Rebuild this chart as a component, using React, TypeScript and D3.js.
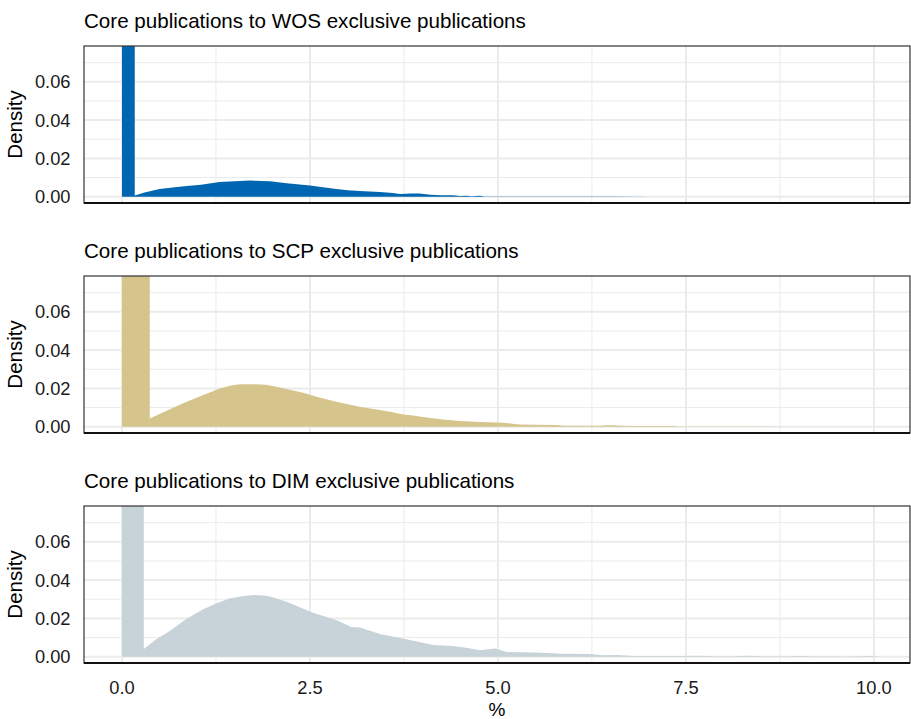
import React from 'react';
import * as d3 from 'd3';

// panel titles and fills
const titles = [
  'Core publications to WOS exclusive publications',
  'Core publications to SCP exclusive publications',
  'Core publications to DIM exclusive publications',
];
const fills = ['#0066b1', '#d6c48d', '#c8d3d9'];

const xTicks = [0, 2.5, 5, 7.5, 10];
const xMinor = [1.25, 3.75, 6.25, 8.75];
const yTicks = [0, 0.02, 0.04, 0.06];
const yMinor = [0.01, 0.03, 0.05, 0.07];

// density estimates (spike at 0 runs past the panel top)
const wosX = [0, 0, 0.17, 0.17, 0.3, 0.5, 0.7, 0.86, 1.05, 1.3, 1.5, 1.7, 1.97, 2.19, 2.5, 2.7, 2.85, 3.0, 3.16, 3.43, 3.6, 3.7, 3.85, 3.96, 4.1, 4.25, 4.4, 4.5, 4.58, 4.65, 4.76, 4.82, 5.0, 5.5, 6.0, 6.5, 7.0];
const wosY = [0, 0.3, 0.3, 0.0006, 0.0022, 0.004, 0.0049, 0.0056, 0.0062, 0.0077, 0.0081, 0.0084, 0.008, 0.007, 0.0059, 0.0048, 0.004, 0.0034, 0.003, 0.0024, 0.0019, 0.0014, 0.0016, 0.0017, 0.001, 0.0008, 0.0007, 0.0004, 0.0005, 0.0002, 0.0005, 0.0001, 0.0001, 0.0001, 0.0001, 0.0001, 0];

const scpX = [0, 0, 0.37, 0.37, 0.6, 0.86, 1.1, 1.3, 1.45, 1.57, 1.75, 1.92, 2.1, 2.41, 2.6, 2.85, 3.16, 3.43, 3.6, 3.74, 3.87, 4.05, 4.27, 4.5, 4.76, 5.07, 5.29, 5.5, 5.78, 5.87, 6.1, 6.36, 6.45, 6.53, 6.62, 6.75, 7.0, 7.33, 7.4, 8.0, 8.8];
const scpY = [0, 0.3, 0.3, 0.0043, 0.0085, 0.013, 0.0168, 0.02, 0.0215, 0.0221, 0.0222, 0.0219, 0.0205, 0.0177, 0.0155, 0.013, 0.0104, 0.0087, 0.0075, 0.0063, 0.0059, 0.0048, 0.0037, 0.003, 0.0024, 0.002, 0.0012, 0.001, 0.0009, 0.0005, 0.0005, 0.0005, 0.0007, 0.0007, 0.0005, 0.0003, 0.0003, 0.0003, 0.0001, 0.0001, 0];

const dimX = [0, 0, 0.29, 0.29, 0.45, 0.64, 0.85, 1.08, 1.25, 1.44, 1.6, 1.75, 1.92, 2.05, 2.19, 2.54, 2.85, 3.05, 3.16, 3.3, 3.43, 3.6, 3.83, 4.14, 4.4, 4.6, 4.76, 4.96, 5.12, 5.5, 5.86, 6.22, 6.4, 6.6, 6.8, 7.2, 7.5, 7.64, 7.87, 8.1, 8.31, 8.53, 8.8, 9.02, 9.2, 9.6, 9.95, 10.1];
const dimY = [0, 0.3, 0.3, 0.004, 0.009, 0.0135, 0.0195, 0.0248, 0.0278, 0.0305, 0.0316, 0.0322, 0.0318, 0.0305, 0.0287, 0.023, 0.0191, 0.0155, 0.0153, 0.0135, 0.0118, 0.0105, 0.0087, 0.0061, 0.0056, 0.0045, 0.0033, 0.0043, 0.0024, 0.0022, 0.0015, 0.0014, 0.0008, 0.0009, 0.0004, 0.0003, 0.0003, 0.0005, 0.0002, 0.0002, 0.0005, 0.0002, 0.0002, 0.0003, 0.0002, 0.0001, 0.0003, 0];

const seriesX = [wosX, scpX, dimX];
const seriesY = [wosY, scpY, dimY];

const W = 911, H = 719;
const left = 84, right = 910;
const panelTop0 = 46, panelH = 157, step = 230;
const font = '"Liberation Sans", Arial, sans-serif';

const x = d3.scaleLinear().domain([-0.505, 10.48]).range([left, right]);

const fmt2 = d3.format('.2f');
const fmt1 = d3.format('.1f');

const App: React.FC = () => {
  return (
    <svg width={W} height={H} style={{ position: 'absolute', left: 0, top: 0, background: '#fff' }} fontFamily={font}>
      <defs>
        {titles.map((_, i) => (
          <clipPath id={`clip${i}`} key={i}>
            <rect x={left} y={panelTop0 + i * step} width={right - left} height={panelH} />
          </clipPath>
        ))}
      </defs>
      {titles.map((title, i) => {
        const top = panelTop0 + i * step;
        const bottom = top + panelH;
        const y = d3.scaleLinear().domain([-0.0033, 0.0787]).range([bottom, top]);
        const pts = seriesX[i].map((v, k) => [v, seriesY[i][k]] as [number, number]);
        const area = d3.area<[number, number]>()
          .x(d => x(d[0]))
          .y0(y(0))
          .y1(d => y(d[1]));
        return (
          <g key={i}>
            <text x={left} y={top - 18.5} fontSize={20.6} fill="#000">{title}</text>
            {yMinor.map(t => (
              <line key={'ym' + t} x1={left} x2={right} y1={y(t)} y2={y(t)} stroke="#ebebeb" strokeWidth={1} />
            ))}
            {xMinor.map(t => (
              <line key={'xm' + t} x1={x(t)} x2={x(t)} y1={top} y2={bottom} stroke="#ebebeb" strokeWidth={1} />
            ))}
            {yTicks.map(t => (
              <line key={'y' + t} x1={left} x2={right} y1={y(t)} y2={y(t)} stroke="#ebebeb" strokeWidth={2} />
            ))}
            {xTicks.map(t => (
              <line key={'x' + t} x1={x(t)} x2={x(t)} y1={top} y2={bottom} stroke="#ebebeb" strokeWidth={2} />
            ))}
            <path d={area(pts) || ''} fill={fills[i]} clipPath={`url(#clip${i})`} />
            <rect x={left} y={top} width={right - left} height={panelH} fill="none" stroke="#333" strokeWidth={1.2} />
            <line x1={left} x2={right} y1={bottom} y2={bottom} stroke="#111" strokeWidth={2} />
            {yTicks.map(t => (
              <text key={'yl' + t} x={70.5} y={y(t)} dy="0.35em" textAnchor="end" fontSize={18.3} fill="#1a1a1a">{fmt2(t)}</text>
            ))}
            <text transform={`translate(21.5,${(top + bottom) / 2}) rotate(-90)`} textAnchor="middle" fontSize={20.5} fill="#000">Density</text>
            {i === titles.length - 1 && xTicks.map(t => (
              <text key={'xl' + t} x={x(t)} y={bottom + 30.5} textAnchor="middle" fontSize={18.3} fill="#1a1a1a">{fmt1(t)}</text>
            ))}
            {i === titles.length - 1 && (
              <text x={(left + right) / 2} y={bottom + 52.5} textAnchor="middle" fontSize={19} fill="#000">%</text>
            )}
          </g>
        );
      })}
    </svg>
  );
};

export default App;
